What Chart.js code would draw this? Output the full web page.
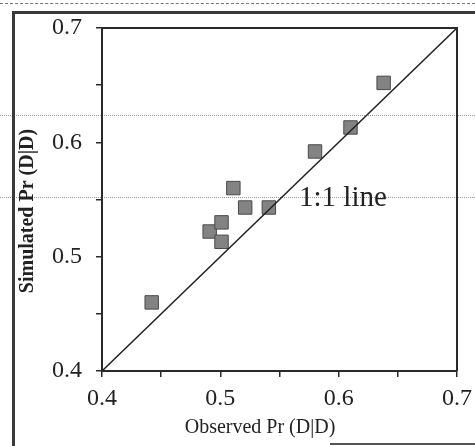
<!DOCTYPE html>
<html lang="en">
<head>
    <meta charset="UTF-8">
    <title>Simulated vs Observed Pr(D|D)</title>
    <script src="https://cdn.jsdelivr.net/npm/chart.js"></script>
    <style>
        html, body { margin: 0; padding: 0; background: #fff; }
        #wrap { position: relative; width: 475px; height: 446px; overflow: hidden; }
        #wrap canvas { position: absolute; left: 0; top: 0; }
        .deco { position: absolute; pointer-events: none; }
        #frame { left: 12px; top: 11px; width: 480px; height: 460px; border-left: 3px solid #3a3a3a; border-top: 3px solid #3a3a3a; }
        #pageTop { left: 0; top: 3px; width: 475px; border-top: 1px dashed #777; }
        #scan1 { left: 0; top: 115px; width: 475px; border-top: 1px dotted #999; }
        #scan2 { left: 0; top: 197px; width: 475px; border-top: 1px dotted #999; }
        #bottomBit { left: 330px; top: 443px; width: 145px; border-top: 2px solid #555; }
    </style>
</head>
<body>
<div id="wrap">
    <div class="deco" id="pageTop"></div>
    <div class="deco" id="scan1"></div>
    <div class="deco" id="scan2"></div>
    <div class="deco" id="frame"></div>
    <div class="deco" id="bottomBit"></div>
    <canvas id="chart" width="475" height="446"></canvas>
</div>
<script>
    // observed vs simulated Pr(D|D)
    const observed  = [0.442, 0.491, 0.501, 0.501, 0.511, 0.521, 0.541, 0.580, 0.610, 0.638];
    const simulated = [0.460, 0.522, 0.530, 0.513, 0.560, 0.543, 0.543, 0.592, 0.613, 0.652];
    const lineX = [0.4, 0.7];
    const lineY = [0.4, 0.7];
    const tickLabels = ['0.4', '0.5', '0.6', '0.7'];

    const serif = '"Liberation Serif", "DejaVu Serif", serif';

    function tickText(v) {
        const s = v.toFixed(1);
        return (Math.abs(v * 10 - Math.round(v * 10)) < 1e-6 && tickLabels.includes(s)) ? s : '';
    }

    // top/right box edges, the 1:1 note and the axis titles
    const boxAndLabel = {
        id: 'boxAndLabel',
        afterDraw(chart) {
            const { ctx, chartArea: a, scales } = chart;
            ctx.save();
            ctx.strokeStyle = '#2a2a2a';
            ctx.lineWidth = 2;
            ctx.beginPath();
            ctx.moveTo(a.left, a.top);
            ctx.lineTo(a.right, a.top);
            ctx.lineTo(a.right, a.bottom);
            ctx.stroke();

            ctx.fillStyle = '#222';
            ctx.font = '29px ' + serif;
            ctx.textBaseline = 'alphabetic';
            ctx.fillText('1:1 line', scales.x.getPixelForValue(0.5665), scales.y.getPixelForValue(0.5445));

            ctx.textAlign = 'center';
            ctx.textBaseline = 'middle';
            ctx.font = '20px ' + serif;
            ctx.fillText('Observed Pr (D|D)', a.left + 158, 428);

            ctx.translate(28, a.top + 183);
            ctx.rotate(-Math.PI / 2);
            ctx.font = 'bold 20px ' + serif;
            ctx.fillText('Simulated Pr (D|D)', 0, 0);
            ctx.restore();
        }
    };

    new Chart(document.getElementById('chart'), {
        type: 'scatter',
        data: {
            datasets: [
                {
                    label: '1:1 line',
                    data: lineX.map((x, i) => ({ x: x, y: lineY[i] })),
                    showLine: true,
                    borderColor: '#222',
                    borderWidth: 1.5,
                    pointRadius: 0
                },
                {
                    label: 'Pr(D|D)',
                    data: observed.map((x, i) => ({ x: x, y: simulated[i] })),
                    pointStyle: 'rect',
                    pointRadius: 9.5,
                    backgroundColor: '#838383',
                    borderColor: '#4a4a4a',
                    borderWidth: 1
                }
            ]
        },
        options: {
            responsive: false,
            animation: false,
            layout: { padding: { left: 14, top: 28, right: 18, bottom: 4 } },
            plugins: { legend: { display: false }, tooltip: { enabled: false } },
            scales: {
                x: {
                    min: 0.4, max: 0.7,
                    grid: { drawOnChartArea: false, drawTicks: true, tickLength: 6, color: '#2a2a2a', lineWidth: 1.5 },
                    border: { display: true, color: '#2a2a2a', width: 2 },
                    ticks: { stepSize: 0.05, autoSkip: false, maxRotation: 0, padding: 7, color: '#222', font: { family: serif, size: 24 }, callback: v => tickText(v) },
                    afterFit(s) { s.height = 71; s.paddingLeft = 0; s.paddingRight = 0; }
                },
                y: {
                    min: 0.4, max: 0.7,
                    grid: { drawOnChartArea: false, drawTicks: true, tickLength: 6, color: '#2a2a2a', lineWidth: 1.5 },
                    border: { display: true, color: '#2a2a2a', width: 2 },
                    ticks: { stepSize: 0.05, autoSkip: false, padding: 14, color: '#222', font: { family: serif, size: 24 }, callback: v => tickText(v) },
                    afterFit(s) { s.width = 88; s.paddingTop = 0; s.paddingBottom = 0; }
                }
            }
        },
        plugins: [boxAndLabel]
    });
</script>
</body>
</html>
